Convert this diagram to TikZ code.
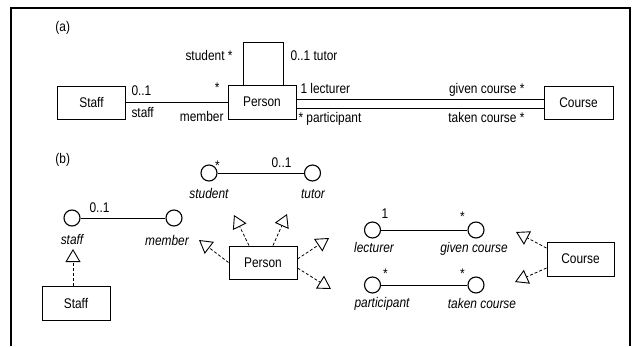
\documentclass[tikz,border=0pt]{standalone}
\usepackage{fontspec}
\setmainfont{Liberation Sans}[FakeStretch=0.85]
\usetikzlibrary{arrows.meta}
\usetikzlibrary{positioning}

\begin{document}
\begin{tikzpicture}[x=1pt, y=-1pt, line width=1pt,
        font=\fontsize{14}{16}\selectfont,
        box/.style={draw, minimum width=68pt, minimum height=33pt, inner sep=0pt},
        port/.style={draw, circle, line width=1.1pt, minimum size=16pt, inner sep=0pt},
        lbl/.style={inner sep=0pt},
        role/.style={inner sep=0pt, font=\fontsize{14}{16}\selectfont\itshape},
        realize/.style={dash pattern=on 3pt off 2pt, line width=0.8pt,
            -{Triangle[open, length=13pt, width=15pt, line width=0.9pt]}}]
    \useasboundingbox (0,0) rectangle (641,346);
    \draw[line width=2.5pt] (11,346) -- (11,8) -- (630,8) -- (630,346);

    % (a)
    \node[lbl, anchor=base west] (taga) at (55,31) {(a)};
    \node[box] (staffa) at (91.5,102.5) {Staff};
    \node[box, minimum height=34pt] (persona) at (262,102) {Person};
    \node[box, minimum width=69pt] (coursea) at (578.5,102.5) {Course};

    \draw (staffa.east) -- (staffa.east -| persona.west);
    \draw ([xshift=-19pt]persona.north) -- ++(0,-42) -| ([xshift=21pt]persona.north);
    \draw ([yshift=3pt]persona.east) -- ([yshift=3pt]persona.east -| coursea.west);
    \draw ([yshift=-6pt]persona.east) -- ([yshift=-6pt]persona.east -| coursea.west);

    \node[lbl, anchor=base west] (m1) at (131,95) {0..1};
    \node[lbl, anchor=base west] (r1) at (131,117.5) {staff};
    \node[lbl, anchor=base east] (r2) at (224,121) {member};
    \node[lbl, anchor=base east] (m2) at (220,92) {*};
    \node[lbl, anchor=base east] (r3) at (233,60) {student *};
    \node[lbl, anchor=base west] (r4) at (290,60) {0..1 tutor};
    \node[lbl, anchor=base west] (r5) at (300,93) {1 lecturer};
    \node[lbl, anchor=base west] (r6) at (298,122) {* participant};
    \node[lbl, anchor=base east] (r7) at (525,93) {given course *};
    \node[lbl, anchor=base east] (r8) at (525,122) {taken course *};

    % (b)
    \node[lbl, anchor=base west] (tagb) at (55,163) {(b)};
    \node[port] (student) at (209,173) {};
    \node[port] (tutor) at (312.5,173) {};
    \node[port] (staff) at (72,218) {};
    \node[port] (member) at (174,218) {};
    \node[port] (lecturer) at (372.5,230) {};
    \node[port] (given) at (476,230) {};
    \node[port] (particip) at (372.5,285) {};
    \node[port] (taken) at (476,285) {};

    \draw (student) -- (tutor)
          (staff) -- (member)
          (lecturer) -- (given)
          (particip) -- (taken);

    \node[role, anchor=base] at (209,198) {student};
    \node[role, anchor=base] at (313,198) {tutor};
    \node[role, anchor=base] at (72,244.5) {staff};
    \node[role, anchor=base] at (167,245) {member};
    \node[role, anchor=base] at (374,252.5) {lecturer};
    \node[role, anchor=base] at (474,252.5) {given course};
    \node[role, anchor=base] at (382,307.5) {participant};
    \node[role, anchor=base] at (482,308) {taken course};

    \node[lbl, anchor=base] at (217.5,170) {*};
    \node[lbl, anchor=base] at (281.5,167) {0..1};
    \node[lbl, anchor=base] at (99.5,212) {0..1};
    \node[lbl, anchor=base] at (385,218) {1};
    \node[lbl, anchor=base] at (462.5,221) {*};
    \node[lbl, anchor=base] at (385.5,278) {*};
    \node[lbl, anchor=base] at (462.5,278) {*};

    \node[box, minimum height=34pt] (staffb) at (76,303) {Staff};
    \node[box] (personb) at (263,262.5) {Person};
    \node[box, minimum width=67pt, minimum height=34pt] (courseb) at (580.5,259) {Course};

    \coordinate (tips) at (73,249);
    \coordinate (tip1) at (199,240);
    \coordinate (tip2) at (234,215);
    \coordinate (tip3) at (287,214);
    \coordinate (tip4) at (329,238);
    \coordinate (tip5) at (331,289);
    \coordinate (tip6) at (516,232);
    \coordinate (tip7) at (515,282);

    \draw[realize] ([xshift=-3pt]staffb.north) -- (tips);
    \draw[realize] (personb.west) -- (tip1);
    \draw[realize] ([xshift=-14pt]personb.north) -- (tip2);
    \draw[realize] ([xshift=10pt]personb.north) -- (tip3);
    \draw[realize] ([yshift=3.5pt]personb.east) -- (tip4);
    \draw[realize] ([yshift=-5.5pt]personb.east) -- (tip5);
    \draw[realize] ([yshift=11pt]courseb.west) -- (tip6);
    \draw[realize] ([yshift=-9pt]courseb.west) -- (tip7);
\end{tikzpicture}
\end{document}
